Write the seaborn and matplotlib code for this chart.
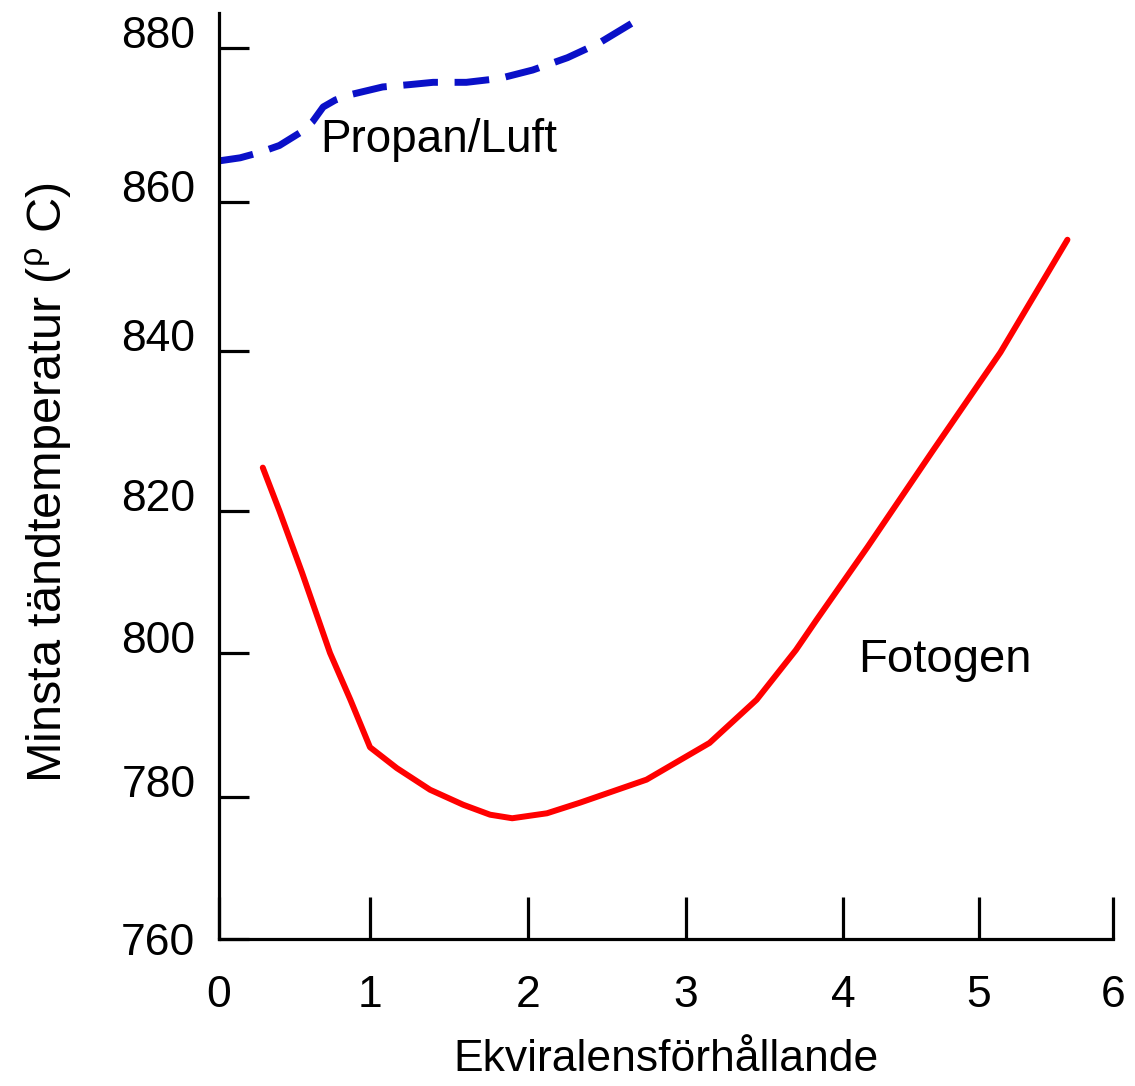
import numpy as np
import pandas as pd
import matplotlib
matplotlib.use("Agg")
import matplotlib.pyplot as plt
import seaborn as sns

# ---- data ----
fotogen_x = [0.29, 0.40, 0.55, 0.735, 0.87, 1.0, 1.17, 1.38, 1.59, 1.76, 1.9, 2.12, 2.33, 2.75,
             3.15, 3.45, 3.7, 3.83, 4.18, 4.66, 5.16, 5.66]
fotogen_y = [825.4, 820.0, 811.3, 800.0, 793.5, 786.9, 784.0, 781.0, 778.9, 777.5, 777.0, 777.7,
             779.2, 782.4, 787.5, 793.5, 800.4, 804.6, 814.9, 827.5, 839.8, 854.9]

propan_x = [0.0, 0.14, 0.27, 0.40, 0.54, 0.62, 0.69, 0.77, 0.87, 1.08, 1.25, 1.40, 1.61, 1.82,
            2.03, 2.25, 2.45, 2.66]
propan_y = [865.3, 865.7, 866.4, 867.3, 869.0, 870.4, 872.3, 873.2, 873.9, 874.9, 875.2, 875.5,
            875.5, 876.0, 877.1, 878.7, 880.6, 883.2]

x_ticks = [0, 1, 2, 3, 4, 5, 6]
y_ticks = [760, 780, 800, 820, 840, 860, 880]

# axis calibration of the (hand drawn, slightly uneven) source axes
x_anchor_vals = [-1, 0, 1, 2, 3, 4, 5, 6, 7]
x_anchor_pos = [68, 219, 370, 528, 686, 843, 979, 1113, 1247]
y_anchor_vals = [740, 760, 780, 800, 820, 840, 860, 880, 900]
y_anchor_pos = [1081, 939, 797, 653, 511, 351, 202, 48, -106]

xv = np.array(x_anchor_vals, float); xp = np.array(x_anchor_pos, float)
yv = np.array(y_anchor_vals, float); yp = -np.array(y_anchor_pos, float)

def fx(v): return np.interp(v, xv, xp)
def ix(p): return np.interp(p, xp, xv)
def fy(v): return np.interp(v, yv, yp)
def iy(p): return np.interp(p, yp, yv)

df_f = pd.DataFrame({"x": fotogen_x, "y": fotogen_y})
df_p = pd.DataFrame({"x": propan_x, "y": propan_y})

sns.set_theme(style="ticks")
plt.rcParams["font.family"] = ["Liberation Sans", "DejaVu Sans"]
plt.rcParams["mathtext.fontset"] = "custom"
plt.rcParams["mathtext.rm"] = "Liberation Sans"
plt.rcParams["mathtext.it"] = "Liberation Sans"
plt.rcParams["mathtext.default"] = "regular"
plt.rcParams["text.color"] = "black"
plt.rcParams["axes.labelcolor"] = "black"
plt.rcParams["xtick.color"] = "black"
plt.rcParams["ytick.color"] = "black"
plt.rcParams["axes.edgecolor"] = "black"

fig = plt.figure(figsize=(11.35, 10.86), dpi=100)
ax = fig.add_axes([219 / 1135, (1086 - 939) / 1086, (1113 - 219) / 1135, (939 - 13) / 1086])
ax.set_xscale("function", functions=(fx, ix))
ax.set_yscale("function", functions=(fy, iy))

sns.lineplot(data=df_f, x="x", y="y", ax=ax, color="#ff0000", lw=4.3,
             estimator=None, sort=False)
sns.lineplot(data=df_p, x="x", y="y", ax=ax, color="#0a10c8", lw=5.0,
             estimator=None, sort=False, linestyle=(0, (5, 2.4)))

ax.set_xlim(0, 6)
ax.set_ylim(760, 884.5)
ax.set_xticks(x_ticks)
ax.set_xticklabels([str(t) for t in x_ticks])
ax.set_yticks(y_ticks)
ax.set_yticklabels([str(t) for t in y_ticks])
ax.minorticks_off()

for s in ["top", "right"]:
    ax.spines[s].set_visible(False)
for s in ["left", "bottom"]:
    ax.spines[s].set_linewidth(2.3)
    ax.spines[s].set_color("black")

ax.tick_params(axis="x", which="major", bottom=True, direction="in", length=30, width=2.3,
               labelsize=32, pad=26, color="black", labelcolor="black")
ax.tick_params(axis="y", which="major", left=True, direction="in", length=21.6, width=2.3,
               labelsize=32, pad=17, color="black", labelcolor="black")
ylabs = ax.get_yticklabels()
plt.setp(ylabs, va="baseline")
ylabs[0].set_va("center_baseline")

ax.set_xlabel("Ekviralensförhållande", fontsize=32, color="black")
ax.xaxis.set_label_coords(0.5, -0.108)
ax.set_ylabel(r"Minsta tändtemperatur ($^{\rho}$ C)", fontsize=35, color="black")
ax.yaxis.set_label_coords(-0.162, 0.4935)

ax.text(0.67, 866.5, "Propan/Luft", fontsize=33, ha="left", va="baseline", color="black")
ax.text(4.11, 797.4, "Fotogen", fontsize=34, ha="left", va="baseline", color="black")

fig.savefig("out.png", dpi=100, facecolor="white")
